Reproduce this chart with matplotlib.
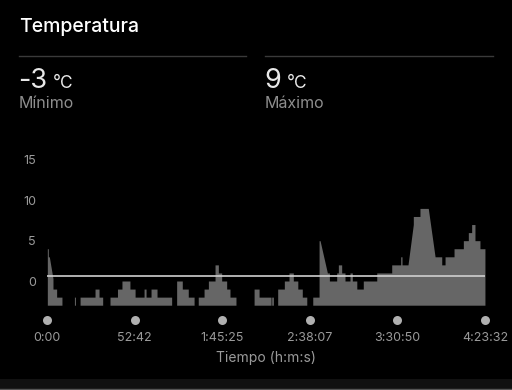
import matplotlib
matplotlib.use("Agg")
import matplotlib.pyplot as plt
import matplotlib.transforms as mtransforms
from matplotlib.patches import Rectangle
from matplotlib.lines import Line2D

plt.rcParams['font.family'] = ['Inter', 'DejaVu Sans']

# ---- data (time in minutes, temperature in °C) ----
time_min = [0.2, 0.2, 0.8, 0.8, 1.4, 3.6, 3.6, 5.8, 5.8, 9.0, 9.0,
            16.5, 16.5, 17.1, 17.1,
            19.9, 19.9, 28.9, 28.9, 31.3, 31.3, 33.5, 33.5,
            37.9, 37.9, 42.4, 42.4, 45.1, 45.1, 49.9, 49.9, 53.0, 53.0, 58.4, 58.4,
            59.6, 59.6, 62.6, 62.6, 66.2, 66.2, 75.0, 75.0,
            78.0, 78.0, 81.4, 81.4, 85.0, 85.0, 88.5, 88.5,
            91.0, 91.0, 94.5, 94.5, 97.1, 97.1, 101.1, 101.1, 103.1, 103.1, 105.1, 105.1,
            108.1, 108.1, 110.1, 110.1, 113.7, 113.7,
            124.6, 124.6, 127.6, 127.6, 134.8, 134.8, 135.2, 135.2, 136.2, 136.2,
            138.8, 138.8, 142.8, 142.8, 145.6, 145.6, 148.2, 148.2, 150.9, 150.9,
            153.6, 153.6, 156.3, 156.3,
            159.9, 159.9, 163.7, 163.7, 164.3, 168.7, 168.7, 169.9, 169.9, 174.3, 174.3,
            175.3, 175.3, 177.3, 177.3, 179.3, 179.3, 182.3, 182.3, 183.7, 183.7,
            186.4, 186.4, 190.3, 190.3, 198.4, 198.4, 207.4, 207.4, 212.8, 212.8,
            213.6, 213.6, 217.2, 220.4, 220.4, 224.4, 224.4, 229.4, 233.5, 237.5, 237.5,
            239.5, 239.5, 244.9, 244.9, 250.5, 250.5, 253.5, 253.5, 255.5, 255.5,
            257.5, 257.5, 260.5, 260.5, 263.5, 263.5]
temp_c = [-3, 4, 4, 3, 3, 0.3, -1, -1, -2, -2, -3,
          -3, -2, -2, -3,
          -3, -2, -2, -1, -1, -2, -2, -3,
          -3, -2, -2, -1, -1, 0, 0, -1, -1, -2, -2, -1,
          -1, -2, -2, -1, -1, -2, -2, -3,
          -3, 0, 0, -1, -1, -2, -2, -3,
          -3, -2, -2, -1, -1, 0, 0, 2, 2, 1, 1, 0,
          0, -1, -1, -2, -2, -3,
          -3, -1, -1, -2, -2, -3, -3, -2, -2, -3,
          -3, -1, -1, 0, 0, 1, 1, 0, 0, -1,
          -1, -2, -2, -3,
          -3, -2, -2, 5, 5, 1, 1, 1, 0, 0, 1,
          1, 2, 2, 1, 1, 0, 0, 1, 1, 0,
          0, -1, -1, 0, 0, 1, 1, 2, 2, 3,
          3, 2, 2, 7, 8, 8, 9, 9, 3, 3, 2,
          2, 3, 3, 4, 4, 5, 5, 6, 6, 7,
          7, 5, 5, 4, 4, -3]
average_c = 0.6
min_c = -3
max_c = 9
y_ticks = [0, 5, 10, 15]
x_tick_pos = [0, 52.7, 105.42, 158.12, 210.83, 263.53]
x_tick_labels = ['0:00', '52:42', '1:45:25', '2:38:07', '3:30:50', '4:23:32']

# ---- figure ----
W, H = 512, 390
fig = plt.figure(figsize=(W / 100, H / 100), dpi=100, facecolor='black')

def fx(px):
    return px / W

def fy(py):
    return 1 - py / H

# header
fig.text(fx(19), fy(26.5), 'Temperatura', color='white', fontsize=14,
         fontweight='medium', va='center', ha='left')
fig.add_artist(Line2D([fx(19), fx(246)], [fy(55.5), fy(55.5)], color='#3a3a3a', lw=1.0))
fig.add_artist(Line2D([fx(265), fx(493)], [fy(55.5), fy(55.5)], color='#3a3a3a', lw=1.0))

for x0, val, lab in [(18, min_c, 'Mínimo'), (264, max_c, 'Máximo')]:
    t = fig.text(fx(x0), fy(87.5), f'{val}', color='#e8e8e8', fontsize=19.5,
                 va='baseline', ha='left')
    fig.canvas.draw()
    bb = t.get_window_extent()
    fig.text((bb.x1 + 6) / W, fy(87.5), '°C', color='#e8e8e8', fontsize=12.5,
             va='baseline', ha='left')
    fig.text(fx(x0 + 1), fy(103), lab, color='#8e8e8e', fontsize=11.5,
             va='center', ha='left')

# plot axes: x 0..263.53 -> px 47..485 ; y -3..15 -> px 305.2..160
ax = fig.add_axes([fx(47), fy(305.2), (485 - 47) / W, (305.2 - 160) / H])
ax.set_facecolor('black')
ax.set_xlim(0, 263.53)
ax.set_ylim(-3, 15)
for s in ax.spines.values():
    s.set_visible(False)

ax.fill_between(time_min, temp_c, -3, color='#666666', lw=0)
ax.plot([0.2, 263.5], [average_c, average_c], color='#cfcfcf', lw=1.2)

ax.set_yticks(y_ticks)
ax.set_yticklabels([str(v) for v in y_ticks], color='#9a9a9a', fontsize=9)
ax.tick_params(axis='y', length=0, pad=8)

ax.set_xticks(x_tick_pos)
ax.set_xticklabels(x_tick_labels, color='#9a9a9a', fontsize=9)
ax.tick_params(axis='x', length=0, pad=19.5)

trans = mtransforms.blended_transform_factory(ax.transData, ax.transAxes)
ax.scatter(x_tick_pos, [-(320 - 305.2) / (305.2 - 160)] * len(x_tick_pos),
           s=42, color='#b0b0b0', transform=trans, clip_on=False, zorder=5, lw=0)

fig.text(fx(266), fy(358), 'Tiempo (h:m:s)', color='#9a9a9a', fontsize=10,
         ha='center', va='center')

# bottom strip
fig.add_artist(Rectangle((0, 0), 1, fy(379), transform=fig.transFigure,
                         color='#111111', lw=0))
fig.add_artist(Line2D([0, 1], [fy(389.3), fy(389.3)], color='#555555', lw=1.0))

fig.savefig('out.png', dpi=100, facecolor='black')
